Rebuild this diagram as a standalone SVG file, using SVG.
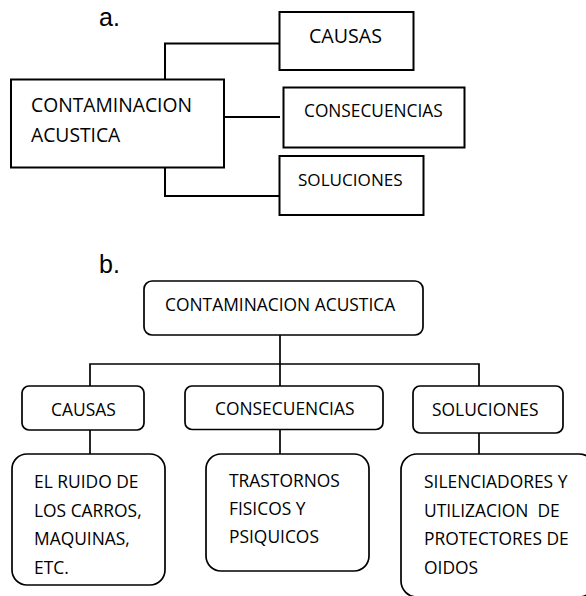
<svg xmlns="http://www.w3.org/2000/svg" width="586" height="596" viewBox="0 0 586 596">
<style>
.bx{fill:#fff;stroke:#000;stroke-width:2}
.rb{fill:#fff;stroke:#000;stroke-width:1.7}
.ln{fill:none;stroke:#000;stroke-width:2}
.lb{fill:none;stroke:#000;stroke-width:1.7}
.t{font-family:"Open Sans","Noto Sans",sans-serif;fill:#000}
.lab{font-family:"Liberation Sans",Arial,sans-serif;font-size:25px;fill:#000}
</style>
<rect width="586" height="596" fill="#fff"/>
<text class="lab" x="99" y="26">a.</text>
<text class="lab" x="99" y="273">b.</text>
<g id="connectors">
<polyline class="ln" points="165,79 165,43.5 280,43.5"/>
<line class="ln" x1="224" y1="117" x2="280" y2="117"/>
<polyline class="ln" points="165,168 165,196 280,196"/>
<line class="lb" x1="280" y1="335" x2="280" y2="386"/>
<polyline class="lb" points="90,386 90,364 479,364 479,386"/>
<line class="lb" x1="90" y1="430" x2="90" y2="454"/>
<line class="lb" x1="280" y1="430" x2="280" y2="454"/>
<line class="lb" x1="479" y1="433" x2="479" y2="454"/>
</g>
<g id="a-main">
<rect class="bx" x="11" y="79.5" width="213" height="88"/>
<text class="t" x="31" y="112" font-size="19.3">CONTAMINACION</text>
<text class="t" x="31" y="142" font-size="19.3">ACUSTICA</text>
</g>
<g id="a-causas">
<rect class="bx" x="279.5" y="12" width="134" height="58"/>
<text class="t" x="309" y="43" font-size="19.6">CAUSAS</text>
</g>
<g id="a-consecuencias">
<rect class="bx" x="283.5" y="87.5" width="181" height="60"/>
<text class="t" x="304" y="117" font-size="17.3">CONSECUENCIAS</text>
</g>
<g id="a-soluciones">
<rect class="bx" x="279.5" y="156" width="144" height="59"/>
<text class="t" x="298" y="186" font-size="17.1">SOLUCIONES</text>
</g>
<g id="b-root">
<rect class="rb" x="144" y="281" width="279" height="54" rx="8"/>
<text class="t" x="165" y="311" font-size="17.4">CONTAMINACION ACUSTICA</text>
</g>
<g id="b-causas">
<rect class="rb" x="22" y="386" width="122" height="44" rx="7"/>
<text class="t" x="51" y="416" font-size="17.4">CAUSAS</text>
</g>
<g id="b-consecuencias">
<rect class="rb" x="185" y="386" width="198" height="43.5" rx="7"/>
<text class="t" x="215" y="415" font-size="17.4">CONSECUENCIAS</text>
</g>
<g id="b-soluciones">
<rect class="rb" x="413" y="386" width="150" height="47" rx="7"/>
<text class="t" x="432" y="416" font-size="17.4">SOLUCIONES</text>
</g>
<g id="b-causas-detalle">
<rect class="rb" x="12" y="454" width="153" height="131" rx="15"/>
<text class="t" x="34" font-size="17.4"><tspan x="34" y="488">EL RUIDO DE</tspan><tspan x="34" y="516.5">LOS CARROS,</tspan><tspan x="34" y="545">MAQUINAS,</tspan><tspan x="34" y="573.5">ETC.</tspan></text>
</g>
<g id="b-consecuencias-detalle">
<rect class="rb" x="206" y="454" width="163" height="117" rx="15"/>
<text class="t" x="229" font-size="17.4"><tspan x="229" y="487">TRASTORNOS</tspan><tspan x="229" y="515">FISICOS Y</tspan><tspan x="229" y="543">PSIQUICOS</tspan></text>
</g>
<g id="b-soluciones-detalle">
<rect class="rb" x="401" y="454" width="194" height="143" rx="16"/>
<text class="t" x="424" font-size="17.4" xml:space="preserve"><tspan x="424" y="488">SILENCIADORES Y</tspan><tspan x="424" y="517">UTILIZACION  DE</tspan><tspan x="424" y="545">PROTECTORES DE</tspan><tspan x="424" y="573.5">OIDOS</tspan></text>
</g>
</svg>
